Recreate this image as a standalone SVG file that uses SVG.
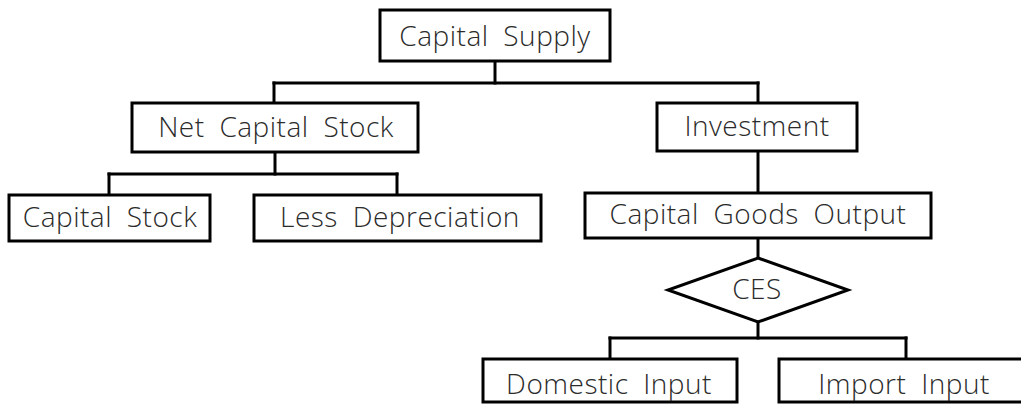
<svg xmlns="http://www.w3.org/2000/svg" width="1021" height="405" viewBox="0 0 1021 405">
<style>
.box{fill:#fff;stroke:#000;stroke-width:3}
.conn line{stroke:#000;stroke-width:3;stroke-linecap:square}
text{font-family:"Open Sans","Liberation Sans",sans-serif;font-weight:300;font-size:28px;letter-spacing:0.5px;word-spacing:7px;fill:#2b2b2b;text-anchor:middle;dominant-baseline:central}
</style>
<rect width="1021" height="405" fill="#fff"/>
<g id="connectors" class="conn">
<line x1="495" y1="62" x2="495" y2="83"/>
<line x1="274" y1="83" x2="758" y2="83"/>
<line x1="274" y1="83" x2="274" y2="102"/>
<line x1="758" y1="83" x2="758" y2="102"/>
<line x1="275" y1="153" x2="275" y2="174"/>
<line x1="109" y1="174" x2="397" y2="174"/>
<line x1="109" y1="174" x2="109" y2="194"/>
<line x1="397" y1="174" x2="397" y2="194"/>
<line x1="758" y1="151" x2="758" y2="192"/>
<line x1="758" y1="238" x2="758" y2="257"/>
<line x1="758" y1="322" x2="758" y2="338"/>
<line x1="610" y1="338" x2="906" y2="338"/>
<line x1="610" y1="338" x2="610" y2="358"/>
<line x1="906" y1="338" x2="906" y2="358"/>
</g>
<g id="capital-supply"><rect class="box" x="380" y="10" width="230" height="51"/><text x="495" y="35">Capital Supply</text></g>
<g id="net-capital-stock"><rect class="box" x="132" y="103" width="286" height="49"/><text x="276" y="126">Net Capital Stock</text></g>
<g id="investment"><rect class="box" x="657" y="103" width="200" height="48"/><text x="757" y="125">Investment</text></g>
<g id="capital-stock"><rect class="box" x="9" y="195" width="201" height="46"/><text x="110" y="216">Capital Stock</text></g>
<g id="less-depreciation"><rect class="box" x="254" y="195" width="287" height="46"/><text x="400" y="216">Less Depreciation</text></g>
<g id="capital-goods-output"><rect class="box" x="585" y="193" width="346" height="45"/><text x="758" y="213">Capital Goods Output</text></g>
<g id="ces"><polygon class="box" points="758,258 848,290 758,322 668,290"/><text x="757" y="288">CES</text></g>
<g id="domestic-input"><rect class="box" x="483" y="359" width="254" height="43"/><text x="609" y="383">Domestic Input</text></g>
<g id="import-input"><rect class="box" x="779" y="359" width="260" height="43"/><text x="904" y="383">Import Input</text></g>
</svg>
